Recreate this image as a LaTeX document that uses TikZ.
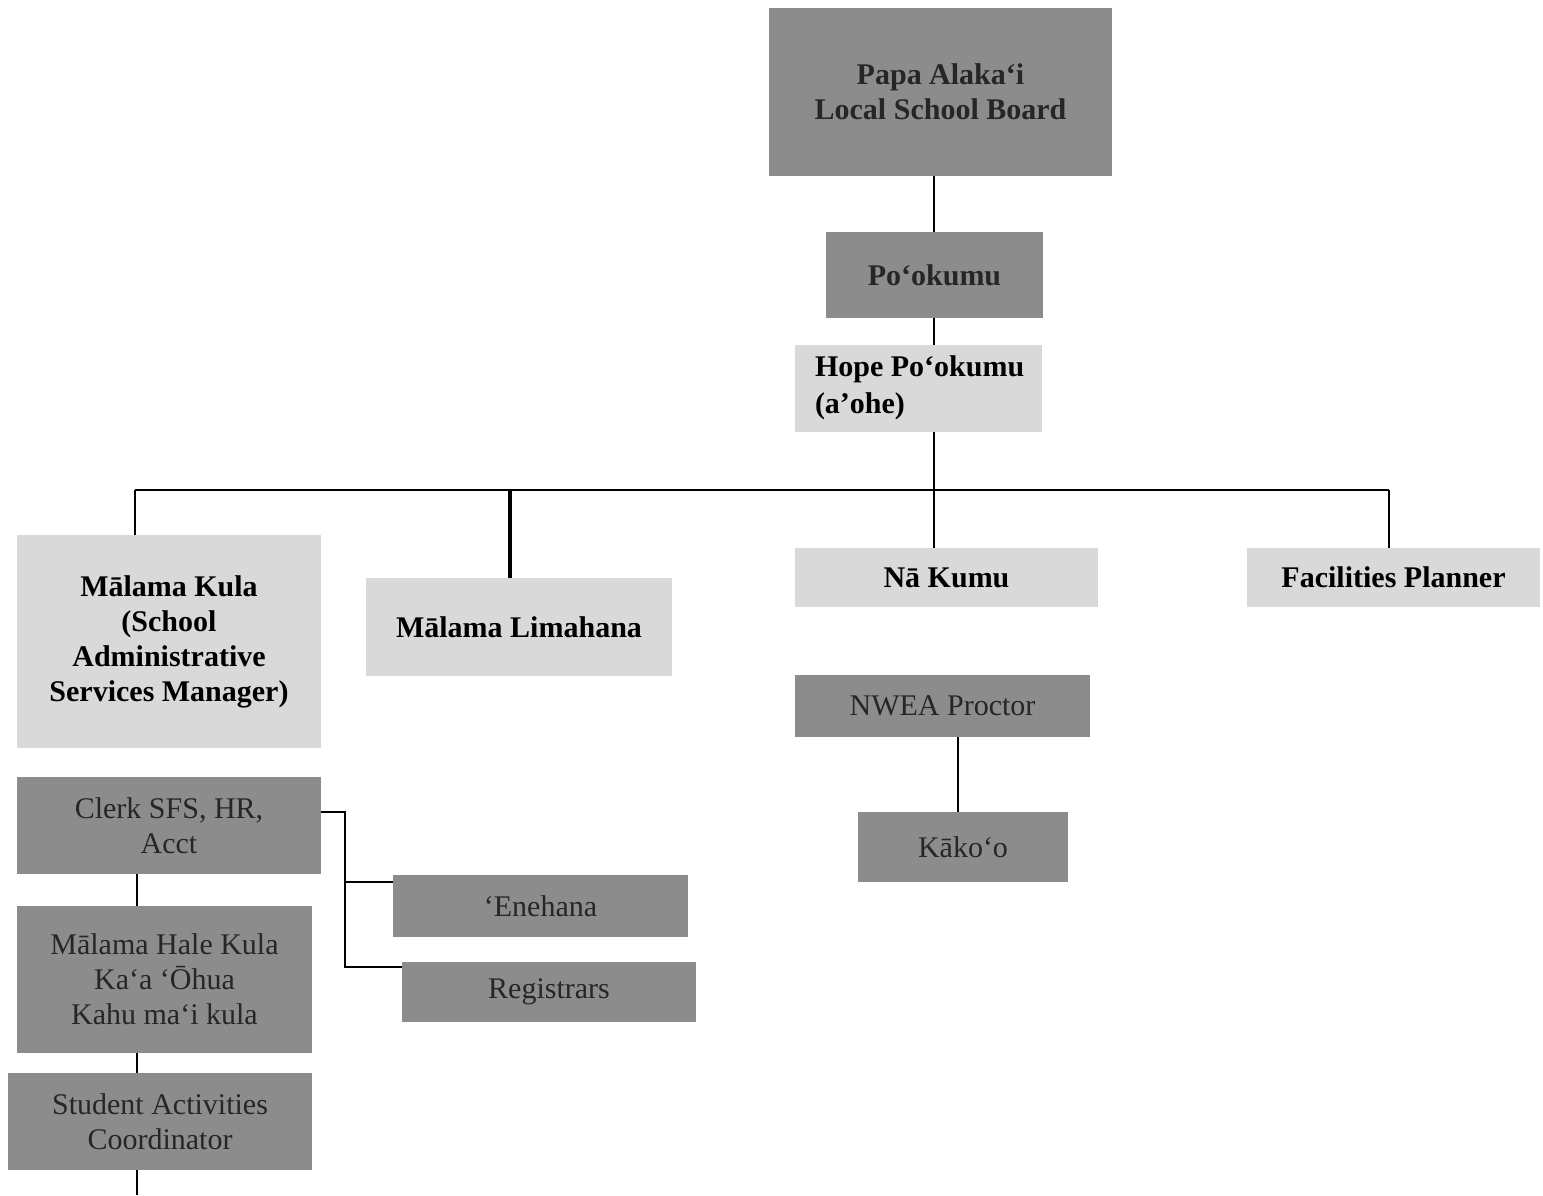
\documentclass[tikz,border=0pt]{standalone}
\usepackage{fontspec}
\setmainfont{Liberation Serif}
\begin{document}
\begin{tikzpicture}[x=1pt,y=-1pt,
  every node/.style={inner sep=0pt, outer sep=0pt, align=center,
    font=\fontsize{30}{35}\selectfont},
  darkbox/.style={fill=black!45, draw=none, text=black!85},
  lightbox/.style={fill=black!15, draw=none, text=black, font=\fontsize{30}{35}\selectfont\bfseries},
  conn/.style={draw=black, line width=1.8pt}]
\useasboundingbox (0,0) rectangle (1543,1195);
\fill[white] (0,0) rectangle (1543,1195);

% top chain
\node[darkbox, font=\fontsize{30}{35}\selectfont\bfseries, minimum width=343pt, minimum height=168pt] (board) at (940.5,92) {Papa Alaka‘i\\Local School Board};
\node[darkbox, font=\fontsize{30}{35}\selectfont\bfseries, minimum width=217pt, minimum height=86pt] (pok) at (934.5,275) {Po‘okumu};
\node[lightbox, minimum width=247pt, minimum height=87pt] (hope) at (918.5,388.5) {};
\node[anchor=west, align=left, font=\fontsize{30}{37}\selectfont\bfseries] (hopet) at (815,388) {Hope Po‘okumu\\(a’ohe)};

% second level
\node[lightbox, minimum width=304pt, minimum height=213pt] (mk) at (169,641.5) {Mālama Kula\\(School\\Administrative\\Services Manager)};
\node[lightbox, minimum width=306pt, minimum height=98pt] (ml) at (519,627) {Mālama Limahana};
\node[lightbox, minimum width=303pt, minimum height=59pt] (nk) at (946.5,577.5) {Nā Kumu};
\node[lightbox, minimum width=293pt, minimum height=59pt] (fp) at (1393.5,577.5) {Facilities Planner};

% under Na Kumu
\node[darkbox, minimum width=295pt, minimum height=62pt] (nwea) at (942.5,706) {NWEA Proctor};
\node[darkbox, minimum width=210pt, minimum height=70pt] (kako) at (963,847) {Kāko‘o};

% left column
\node[darkbox, minimum width=304pt, minimum height=97pt] (clerk) at (169,825.5) {Clerk SFS, HR,\\Acct};
\node[darkbox, minimum width=295pt, minimum height=147pt] (mhk) at (164.5,979.5) {Mālama Hale Kula\\Ka‘a ‘Ōhua\\Kahu ma‘i kula};
\node[darkbox, minimum width=304pt, minimum height=97pt] (sac) at (160,1121.5) {Student Activities\\Coordinator};
\node[darkbox, minimum width=295pt, minimum height=62pt] (ene) at (540.5,906) {‘Enehana};
\node[darkbox, minimum width=294pt, minimum height=60pt] (reg) at (549,992) {Registrars};

% coordinates
\coordinate (trunk) at (934,490);
\coordinate (busL) at (135,490);
\coordinate (busML) at (510,490);
\coordinate (busR) at (1389,490);
\coordinate (brk) at (345,812);
\coordinate (enej) at (345,882);
\coordinate (regj) at (345,967);
\coordinate (kcol) at (958,780);
\coordinate (tail) at (137,1195);

% connectors
\draw[conn] (board.south -| trunk) -- (pok.north -| trunk);
\draw[conn] (pok.south -| trunk) -- (hope.north -| trunk);
\draw[conn] (hope.south -| trunk) -- (trunk);
\draw[conn] (busL) -- (busR);
\draw[conn] (busL) -- (busL |- mk.north);
\draw[draw=black, line width=3.5pt] (busML) -- (busML |- ml.north);
\draw[conn] (trunk) -- (trunk |- nk.north);
\draw[conn] (busR) -- (busR |- fp.north);
\draw[conn] (nwea.south -| kcol) -- (kako.north -| kcol);
\draw[conn] (clerk.south -| tail) -- (mhk.north -| tail);
\draw[conn] (mhk.south -| tail) -- (sac.north -| tail);
\draw[conn] (sac.south -| tail) -- (tail);
\draw[conn] (clerk.east |- brk) -- (brk) -- (regj) -- (regj -| reg.west);
\draw[conn] (enej) -- (enej -| ene.west);
\end{tikzpicture}
\end{document}
